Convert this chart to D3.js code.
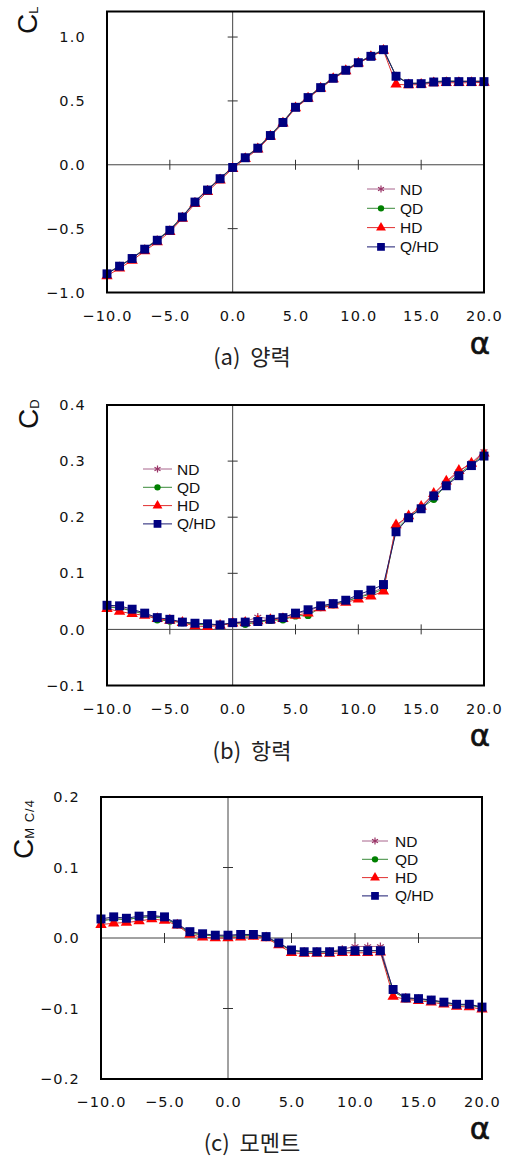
<!DOCTYPE html>
<html>
  <head>
    <meta charset="utf-8">
    <title>Aerodynamic coefficients</title>
    <script src="https://d3js.org/d3.v7.min.js"></script>
    <style>
      body { margin: 0; background: #fff; }
      svg { display: block; }
      .tick text { font-family: "DejaVu Sans", sans-serif; font-size: 14.5px; letter-spacing: 1.2px; fill: #111; }
      .legend text { font-family: "Liberation Sans", Arial, sans-serif; font-size: 15.5px; fill: #111; }
      .caption { font-family: "Noto Sans CJK KR", sans-serif; font-size: 22px; fill: #222; }
      .alpha { font-family: "DejaVu Sans", sans-serif; font-size: 31px; fill: #111; stroke: #111; stroke-width: 0.6px; }
      .title { font-family: "Liberation Sans", Arial, sans-serif; fill: #111; }
    </style>
  </head>
  <body>
    <svg id="chart" width="507" height="1156"></svg>
    <script>
      // angle of attack (deg)
      alpha = [-10, -9, -8, -7, -6, -5, -4, -3, -2, -1, 0, 1, 2, 3, 4, 5, 6, 7, 8, 9, 10, 11, 12, 13, 14, 15, 16, 17, 18, 19, 20];
      xTicks = [-10, -5, 0, 5, 10, 15, 20];
      seriesNames = ["ND", "QD", "HD", "Q/HD"];

      // lift
      clND = [-0.850, -0.790, -0.730, -0.655, -0.585, -0.508, -0.403, -0.286, -0.192, -0.104, -0.018, 0.060, 0.136, 0.234, 0.338, 0.456, 0.532, 0.610, 0.683, 0.746, 0.804, 0.853, 0.904, 0.697, 0.640, 0.640, 0.652, 0.655, 0.656, 0.656, 0.656];
      clQD = [-0.852, -0.792, -0.732, -0.658, -0.588, -0.510, -0.406, -0.289, -0.195, -0.106, -0.019, 0.058, 0.133, 0.232, 0.335, 0.453, 0.529, 0.607, 0.680, 0.743, 0.801, 0.851, 0.902, 0.695, 0.638, 0.638, 0.650, 0.657, 0.653, 0.653, 0.653];
      clHD = [-0.870, -0.810, -0.750, -0.675, -0.605, -0.525, -0.420, -0.305, -0.210, -0.120, -0.030, 0.047, 0.122, 0.222, 0.325, 0.444, 0.520, 0.598, 0.672, 0.735, 0.795, 0.846, 0.895, 0.630, 0.625, 0.628, 0.640, 0.642, 0.642, 0.642, 0.645];
      clQHD = [-0.854, -0.794, -0.734, -0.661, -0.591, -0.513, -0.409, -0.292, -0.198, -0.109, -0.021, 0.055, 0.130, 0.229, 0.331, 0.450, 0.526, 0.604, 0.677, 0.740, 0.799, 0.849, 0.901, 0.693, 0.635, 0.635, 0.648, 0.651, 0.651, 0.651, 0.651];
      clTicks = [-1.0, -0.5, 0.0, 0.5, 1.0];

      // drag
      cdND = [0.041, 0.039, 0.034, 0.028, 0.020, 0.017, 0.013, 0.010, 0.009, 0.008, 0.012, 0.014, 0.022, 0.019, 0.022, 0.028, 0.033, 0.041, 0.045, 0.051, 0.058, 0.065, 0.075, 0.183, 0.203, 0.218, 0.241, 0.262, 0.281, 0.297, 0.317];
      cdQD = [0.040, 0.038, 0.033, 0.027, 0.017, 0.015, 0.012, 0.009, 0.008, 0.008, 0.011, 0.009, 0.013, 0.016, 0.017, 0.024, 0.025, 0.039, 0.044, 0.050, 0.057, 0.063, 0.072, 0.178, 0.200, 0.216, 0.232, 0.258, 0.277, 0.294, 0.311];
      cdHD = [0.037, 0.032, 0.028, 0.025, 0.019, 0.016, 0.012, 0.006, 0.005, 0.007, 0.011, 0.012, 0.015, 0.017, 0.019, 0.025, 0.029, 0.038, 0.043, 0.048, 0.054, 0.059, 0.068, 0.186, 0.202, 0.219, 0.242, 0.264, 0.283, 0.296, 0.314];
      cdQHD = [0.043, 0.042, 0.036, 0.029, 0.021, 0.018, 0.013, 0.011, 0.010, 0.008, 0.012, 0.013, 0.014, 0.018, 0.021, 0.029, 0.035, 0.042, 0.046, 0.052, 0.062, 0.070, 0.080, 0.174, 0.199, 0.215, 0.238, 0.256, 0.274, 0.292, 0.309];
      cdTicks = [-0.1, 0.0, 0.1, 0.2, 0.3, 0.4];

      // moment about quarter chord
      cmND = [0.025, 0.028, 0.026, 0.029, 0.031, 0.029, 0.019, 0.008, 0.005, 0.003, 0.003, 0.004, 0.004, 0.001, -0.008, -0.018, -0.019, -0.019, -0.019, -0.016, -0.012, -0.012, -0.012, -0.075, -0.085, -0.086, -0.088, -0.091, -0.094, -0.095, -0.098];
      cmQD = [0.024, 0.027, 0.026, 0.029, 0.030, 0.028, 0.019, 0.007, 0.004, 0.003, 0.002, 0.003, 0.004, 0.001, -0.008, -0.018, -0.020, -0.020, -0.020, -0.018, -0.018, -0.018, -0.018, -0.076, -0.086, -0.087, -0.089, -0.092, -0.095, -0.095, -0.099];
      cmHD = [0.019, 0.021, 0.022, 0.024, 0.027, 0.025, 0.018, 0.005, 0.001, 0.000, 0.000, 0.001, 0.002, 0.000, -0.010, -0.021, -0.022, -0.022, -0.022, -0.021, -0.021, -0.021, -0.020, -0.083, -0.087, -0.089, -0.091, -0.094, -0.097, -0.098, -0.101];
      cmQHD = [0.027, 0.030, 0.028, 0.031, 0.032, 0.030, 0.020, 0.009, 0.006, 0.004, 0.004, 0.005, 0.005, 0.002, -0.007, -0.017, -0.0195, -0.0195, -0.0195, -0.018, -0.018, -0.018, -0.018, -0.073, -0.085, -0.086, -0.088, -0.091, -0.094, -0.094, -0.098];
      cmTicks = [-0.2, -0.1, 0.0, 0.1, 0.2];

      // series look
      styles = {
        "ND": { color: "#993366", line: "#a8648c", symbol: d3.symbolAsterisk, size: 44, stroke: true },
        "QD": { color: "#008000", line: "#3a8a3a", symbol: d3.symbolCircle, size: 42, stroke: false },
        "HD": { color: "#ff0000", line: "#e03030", symbol: d3.symbolTriangle, size: 56, stroke: false },
        "Q/HD": { color: "#000080", line: "#1a1a70", symbol: d3.symbolSquare, size: 80, stroke: false }
      };

      panels = [
        { series: [clND, clQD, clHD, clQHD], ticks: clTicks, domain: [-1.0, 1.2],
          left: 107, right: 484, top: 11.5, bottom: 292.5,
          sub: "L", titleX: 37, titleY: 34,
          legend: { x1: 367, x2: 395, tx: 400, y: 189, step: 19.3 },
          caption: "(a)  양력", capY: 365, alphaY: 354 },
        { series: [cdND, cdQD, cdHD, cdQHD], ticks: cdTicks, domain: [-0.1, 0.4],
          left: 107, right: 484, top: 405, bottom: 685.5,
          sub: "D", titleX: 38, titleY: 429,
          legend: { x1: 143, x2: 172, tx: 177, y: 469, step: 18.3 },
          caption: "(b)  항력", capY: 759, alphaY: 746 },
        { series: [cmND, cmQD, cmHD, cmQHD], ticks: cmTicks, domain: [-0.2, 0.2],
          left: 101, right: 482, top: 797, bottom: 1079,
          sub: "M C/4", titleX: 33, titleY: 859,
          legend: { x1: 362, x2: 388, tx: 395, y: 841, step: 18.3 },
          caption: "(c)  모멘트", capY: 1151, alphaY: 1139 }
      ];

      svg = d3.select("#chart");
      panels.forEach(drawPanel);

      function marker(g, name, size) {
        let s = styles[name];
        g.append("path")
          .attr("d", d3.symbol().type(s.symbol).size(size)())
          .attr("fill", s.stroke ? "none" : s.color)
          .attr("stroke", s.stroke ? s.color : "none")
          .attr("stroke-width", 1.2);
      }

      function drawPanel(p) {
        x = d3.scaleLinear().domain([-10, 20]).range([p.left, p.right]);
        y = d3.scaleLinear().domain(p.domain).range([p.bottom, p.top]);
        let g = svg.append("g");

        // zero lines with crossing ticks
        g.append("line")
          .attr("x1", x(-10)).attr("x2", x(20))
          .attr("y1", y(0)).attr("y2", y(0))
          .attr("stroke", "#444");
        g.append("line")
          .attr("x1", x(0)).attr("x2", x(0))
          .attr("y1", p.top).attr("y2", p.bottom)
          .attr("stroke", "#444");
        g.selectAll(".xcross")
            .data(xTicks.filter(function(d) { return d != 0 && d != -10 && d != 20; }))
          .enter().append("line")
            .attr("x1", function(d) { return x(d); })
            .attr("x2", function(d) { return x(d); })
            .attr("y1", y(0) - 5).attr("y2", y(0) + 5)
            .attr("stroke", "#333");
        g.selectAll(".ycross")
            .data(p.ticks.filter(function(d) { return d != 0 && d != p.domain[0] && d != p.domain[1]; }))
          .enter().append("line")
            .attr("x1", x(0) - 5).attr("x2", x(0) + 5)
            .attr("y1", function(d) { return y(d); })
            .attr("y2", function(d) { return y(d); })
            .attr("stroke", "#333");

        // series
        let line = d3.line()
          .x(function(d, i) { return x(alpha[i]); })
          .y(function(d) { return y(d); });
        p.series.forEach(function(values, k) {
          let s = styles[seriesNames[k]];
          g.append("path")
            .attr("d", line(values))
            .attr("fill", "none")
            .attr("stroke", s.line)
            .attr("stroke-width", 1);
          g.selectAll(".pt" + k)
              .data(values)
            .enter().append("path")
              .attr("transform", function(d, i) { return "translate(" + x(alpha[i]) + "," + y(d) + ")"; })
              .attr("d", d3.symbol().type(s.symbol).size(s.size)())
              .attr("fill", s.stroke ? "none" : s.color)
              .attr("stroke", s.stroke ? s.color : "none")
              .attr("stroke-width", 1.2);
        });

        // frame
        g.append("rect")
          .attr("x", p.left).attr("y", p.top)
          .attr("width", p.right - p.left).attr("height", p.bottom - p.top)
          .attr("fill", "none")
          .attr("stroke", "#000")
          .attr("stroke-width", 2);

        // tick labels
        let yAxis = d3.axisLeft(y).tickValues(p.ticks).tickSize(0).tickPadding(21).tickFormat(d3.format(".1f"));
        let xAxis = d3.axisBottom(x).tickValues(xTicks).tickSize(0).tickPadding(18).tickFormat(d3.format(".1f"));
        g.append("g").attr("transform", "translate(" + p.left + ",0)").call(yAxis)
          .call(function(a) { a.select(".domain").remove(); });
        g.append("g").attr("transform", "translate(0," + p.bottom + ")").call(xAxis)
          .call(function(a) { a.select(".domain").remove(); });
        g.selectAll(".tick text").attr("font-family", null).attr("font-size", null);

        // legend
        let lg = g.append("g").classed("legend", true);
        seriesNames.forEach(function(name, k) {
          let s = styles[name];
          let ly = p.legend.y + k * p.legend.step;
          let item = lg.append("g");
          item.append("line")
            .attr("x1", p.legend.x1).attr("x2", p.legend.x2)
            .attr("y1", ly).attr("y2", ly)
            .attr("stroke", s.line);
          marker(item.append("g").attr("transform", "translate(" + ((p.legend.x1 + p.legend.x2) / 2) + "," + ly + ")"), name, s.size * 0.75);
          item.append("text")
            .attr("x", p.legend.tx).attr("y", ly)
            .attr("dy", "0.36em")
            .text(name);
        });

        // axis title, rotated
        let t = g.append("text")
          .classed("title", true)
          .attr("transform", "translate(" + p.titleX + "," + p.titleY + ") rotate(-90)");
        t.append("tspan").attr("font-size", 28).text("C");
        t.append("tspan").attr("font-size", 13).attr("dy", 1).attr("letter-spacing", 1).text(p.sub);

        // alpha and caption
        g.append("text")
          .classed("alpha", true)
          .attr("x", 480).attr("y", p.alphaY)
          .attr("text-anchor", "middle")
          .text("α");
        g.append("text")
          .classed("caption", true)
          .attr("x", 252).attr("y", p.capY)
          .attr("text-anchor", "middle")
          .attr("xml:space", "preserve")
          .style("white-space", "pre")
          .text(p.caption);
      }
    </script>
  </body>
</html>
